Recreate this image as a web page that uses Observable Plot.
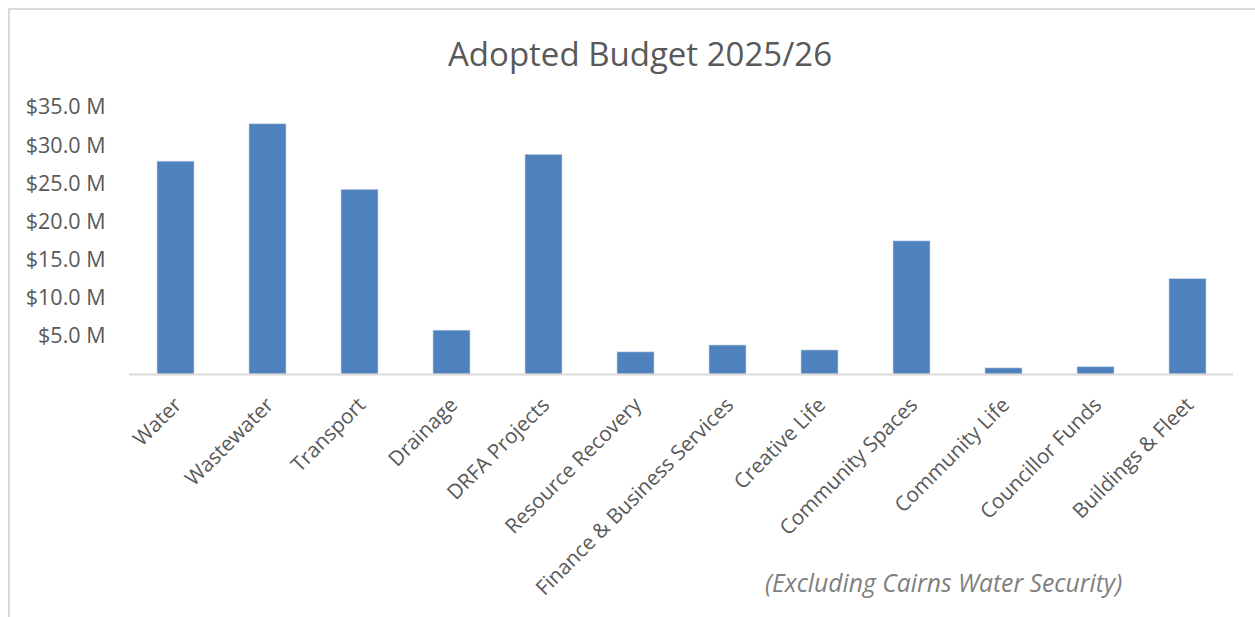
<!DOCTYPE html>
<html>
<head>
<meta charset="utf-8">
<script src="https://cdn.jsdelivr.net/npm/d3@7"></script>
<script src="https://cdn.jsdelivr.net/npm/@observablehq/plot@0.6"></script>
<style>
  html, body { margin: 0; padding: 0; background: #fff; }
  #wrap { position: relative; width: 1255px; height: 617px; overflow: hidden; font-family: "Open Sans", sans-serif; }
  #frame { position: absolute; left: 8px; top: 8px; width: 1260px; height: 640px; border: 2px solid #d9d9d9; box-sizing: border-box; }
  #title { position: absolute; left: 0; width: 1280px; top: 31px; text-align: center; font-size: 33px; color: #595959; }
  #caption { position: absolute; left: 765px; top: 566px; font-size: 24.7px; font-style: italic; color: #7f7f7f; white-space: nowrap; }
  #chart { position: absolute; left: 0; top: 0; }
</style>
</head>
<body>
<div id="wrap">
  <div id="frame"></div>
  <div id="chart"></div>
  <div id="title">Adopted Budget 2025/26</div>
  <div id="caption">(Excluding Cairns Water Security)</div>
</div>
<script>
const categories = ["Water", "Wastewater", "Transport", "Drainage", "DRFA Projects", "Resource Recovery",
  "Finance & Business Services", "Creative Life", "Community Spaces", "Community Life", "Councillor Funds", "Buildings & Fleet"];
const budgetMillions = [27.9, 32.8, 24.2, 5.75, 28.8, 2.9, 3.8, 3.15, 17.45, 0.8, 0.95, 12.5];
const yTicks = [5, 10, 15, 20, 25, 30, 35];

const data = categories.map((c, i) => ({category: c, value: budgetMillions[i]}));

const chart = Plot.plot({
  width: 1255,
  height: 617,
  marginLeft: 129,
  marginRight: 22,
  marginTop: 107,
  marginBottom: 243,
  style: {fontFamily: "Open Sans, sans-serif", fontSize: "21px", color: "#595959", background: "transparent", overflow: "visible"},
  x: {domain: categories, paddingInner: 0.6, paddingOuter: 0.3, label: null},
  y: {domain: [0, 35], label: null},
  marks: [
    Plot.axisY({ticks: yTicks, tickSize: 0, tickPadding: 24, tickFormat: d => `$${d.toFixed(1)} M`, fontSize: 21.5, fill: "#595959", label: null}),
    Plot.axisX({tickSize: 0, tickRotate: -45, tickPadding: 27, dx: 2, fontSize: 20.7, fill: "#595959", label: null}),
    Plot.barY(data, {x: "category", y: "value", fill: "#4f81bd", stroke: "#c9d6ea", strokeWidth: 0.6}),
    Plot.ruleY([0], {stroke: "#d9d9d9", strokeWidth: 2})
  ]
});
document.getElementById("chart").appendChild(chart);
</script>
</body>
</html>
